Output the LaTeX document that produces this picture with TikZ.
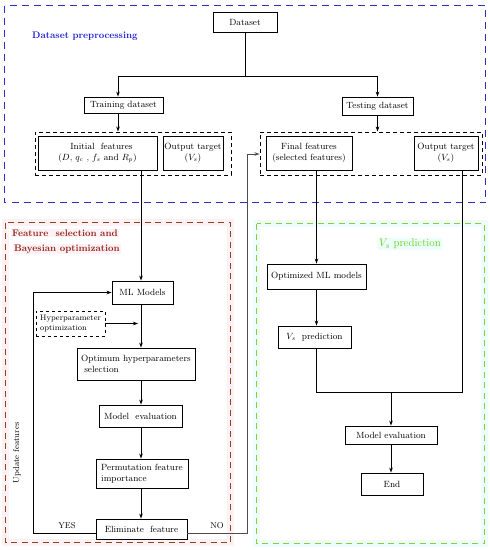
\documentclass[tikz,border=0pt]{standalone}
\usetikzlibrary{arrows.meta}
\definecolor{bluedash}{RGB}{45,45,195}
\definecolor{bluetext}{RGB}{30,30,210}
\definecolor{reddash}{RGB}{140,70,30}
\definecolor{redtext}{RGB}{145,35,20}
\definecolor{greendash}{RGB}{150,200,60}
\definecolor{greentext}{RGB}{100,210,20}
\definecolor{pinktint}{RGB}{254,241,246}
\definecolor{cyantint}{RGB}{236,253,251}
\begin{document}
\begin{tikzpicture}[x=1pt,y=-1pt,
  bx/.style={draw,line width=0.9pt,inner sep=0pt,font=\fontsize{9}{10.5}\selectfont,align=center},
  grp/.style={draw,line width=1pt,dash pattern=on 4pt off 3pt,inner sep=0pt},
  arr/.style={line width=0.8pt,-{Stealth[length=5pt,width=3.6pt]}},
  ln/.style={line width=0.8pt},
  lbl/.style={font=\fontsize{8.5}{10}\selectfont,inner sep=0pt}]
\useasboundingbox (0,0) rectangle (490,550);
% tinted bands
\draw[pinktint,line width=7pt] (5.5,222.5) rectangle (230.5,542.5);
\draw[cyantint,line width=7pt] (256.5,223.5) rectangle (484.5,543.5);
% region frames
\draw[bluedash,line width=1.4pt,dash pattern=on 7pt off 5pt] (4.5,5.5) rectangle (485.5,202.5);
\draw[reddash,line width=1.2pt,dash pattern=on 6pt off 4.5pt] (5.5,222.5) rectangle (230.5,542.5);
\draw[greendash,line width=1.2pt,dash pattern=on 6pt off 4.5pt] (256.5,223.5) rectangle (484.5,543.5);
% region titles
\node[anchor=west,inner sep=0pt,text=bluetext,font=\fontsize{9.5}{11}\selectfont\bfseries] (t1) at (32,36) {Dataset preprocessing};
\node[anchor=west,inner sep=1pt,fill=pinktint,text=redtext,font=\fontsize{9.5}{11}\selectfont\bfseries] (t2a) at (11,233) {Feature\ \ selection and};
\node[anchor=west,inner sep=1pt,fill=pinktint,text=redtext,font=\fontsize{9.5}{11}\selectfont\bfseries] (t2b) at (13,249) {Bayesian optimization};
\node[inner sep=1pt,fill=cyantint,text=greentext,font=\fontsize{11}{13}\selectfont] (t3) at (410,244) {$V_s$ prediction};
% boxes top
\node[bx,minimum width=64,minimum height=20] (ds) at (245,22) {Dataset};
\node[bx,minimum width=79,minimum height=16] (train) at (123.5,105) {Training dataset};
\node[bx,minimum width=71,minimum height=18] (test) at (377.5,106) {Testing dataset};
\node[grp,minimum width=196,minimum height=43] (grpL) at (133,153.5) {};
\node[grp,minimum width=222,minimum height=43] (grpR) at (371,153.5) {};
\node[bx,minimum width=119,minimum height=34,align=left] (init) at (97.5,153) {\hspace*{12pt}Initial\ \ features\\($D$, $q_c$ , $f_s$ and $R_p$)};
\node[bx,minimum width=60,minimum height=34] (outL) at (193,153) {Output target\\($V_s$)};
\node[bx,minimum width=86,minimum height=34] (fin) at (309,153) {Final features\\(selected features)};
\node[bx,minimum width=64,minimum height=34] (outR) at (446,153) {Output target\\($V_s$)};
% left column
\node[bx,minimum width=61,minimum height=23] (ml) at (142.5,292.5) {ML Models};
\node[draw,line width=0.6pt,dashed,inner sep=1pt,minimum width=69,minimum height=25,align=left,font=\fontsize{8}{10}\selectfont] (hyp) at (70.5,323.5) {Hyperparameter\\optimization};
\node[bx,minimum width=118,minimum height=32,align=left] (opt) at (136,364) {Optimum hyperparameters\\\ selection};
\node[bx,minimum width=83,minimum height=22] (mev) at (140.5,416) {Model\ \ evaluation};
\node[bx,minimum width=92,minimum height=29,align=left] (perm) at (142,473.5) {Permutation feature\\importance};
\node[bx,minimum width=91,minimum height=20] (elim) at (141.5,529) {Eliminate\ \ feature};
% right column
\node[bx,minimum width=99,minimum height=25] (omL) at (316.5,276.5) {Optimized ML models};
\node[bx,minimum width=73,minimum height=22] (vsp) at (314.5,337) {$V_s$\ \ prediction};
\node[bx,minimum width=92,minimum height=18] (mev2) at (391,435) {Model evaluation};
\node[bx,minimum width=62,minimum height=22] (endn) at (392,484) {End};
% labels
\node[lbl,rotate=90] (upd) at (17,453) {Update features};
\node[lbl] (yes) at (67,526) {YES};
\node[lbl] (no) at (217,526) {NO};
% coordinates
\coordinate (split) at (245,76);
\coordinate (tl) at (118,76);
\coordinate (colL) at (141,0);
\coordinate (lb) at (33,533);
\coordinate (lt) at (33,292.5);
\coordinate (rb) at (247,533);
\coordinate (rt) at (247,154);
\coordinate (colR) at (316.5,0);
\coordinate (j1) at (316.5,392);
\coordinate (j2) at (462,392);
% connectors
\draw[ln] (ds.south) -- (split);
\draw[arr] (split) -- (tl) -- (tl |- train.north);
\draw[arr] (split) -| (test.north);
\draw[arr] (tl |- train.south) -- (tl |- grpL.north);
\draw[arr] (test.south) -- (test.south |- grpR.north);
\draw[arr] (colL |- init.south) -- (colL |- ml.north);
\draw[arr] (colL |- ml.south) -- (colL |- opt.north);
\draw[arr] (hyp.east) -- ([xshift=-3pt]hyp.east -| colL);
\draw[arr] (colL |- opt.south) -- (colL |- mev.north);
\draw[arr] (colL |- mev.south) -- (colL |- perm.north);
\draw[arr] (colL |- perm.south) -- (colL |- elim.north);
\draw[arr] (elim.west |- lb) -- (lb) -- (lt) -- (ml.west);
\draw[arr,gray!60!black] (elim.east |- rb) -- (rb) -- (rt) -- (grpR.west |- rt);
\draw[arr] (colR |- fin.south) -- (omL.north);
\draw[arr] (omL.south) -- (omL.south |- vsp.north);
\draw[ln] (j1 |- vsp.south) -- (j1) -- (j2) -- (j2 |- outR.south);
\draw[arr] (mev2.north |- j1) -- (mev2.north);
\draw[arr] (mev2.south) -- (mev2.south |- endn.north);
\end{tikzpicture}
\end{document}
